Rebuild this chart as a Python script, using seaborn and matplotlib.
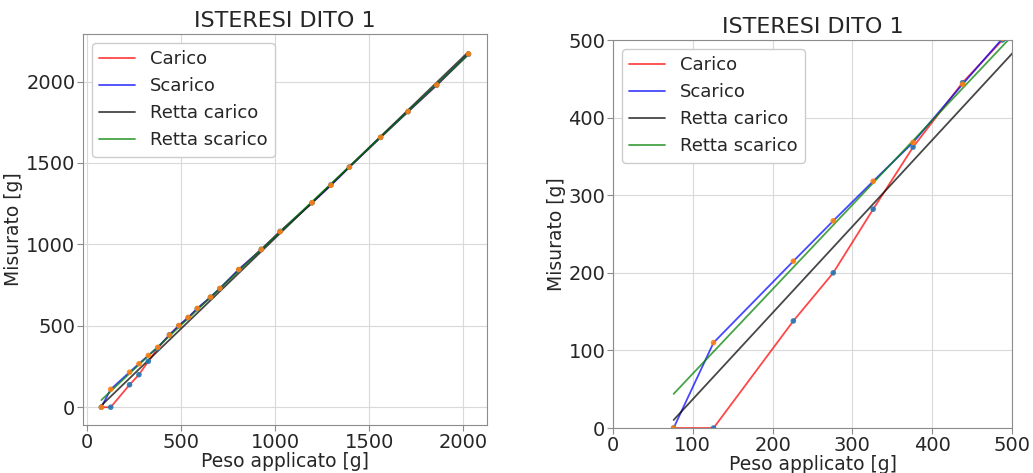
import numpy as np
import pandas as pd
import matplotlib
matplotlib.use("Agg")
import matplotlib.pyplot as plt
import seaborn as sns

# pesi applicati [g]
peso = [76, 126, 226, 276, 326, 376, 438, 488, 538, 586, 656, 706,
        806, 926, 1026, 1196, 1296, 1394, 1560, 1706, 1858, 2027]
# misure in carico / scarico [g]
carico = [0, 0, 138, 200, 282, 362, 445, 500, 550, 605, 675, 728,
          843, 970, 1080, 1255, 1365, 1475, 1657, 1815, 1977, 2168]
scarico = [0, 110, 215, 267, 318, 368, 443, 502, 551, 607, 676, 730,
           846, 968, 1078, 1256, 1363, 1474, 1658, 1816, 1979, 2170]

titolo = "ISTERESI DITO 1"

df = pd.DataFrame({"peso": peso, "carico": carico, "scarico": scarico})

# rette di regressione
pc = np.polyfit(df["peso"], df["carico"], 1)
ps = np.polyfit(df["peso"], df["scarico"], 1)
df["retta_carico"] = np.polyval(pc, df["peso"])
df["retta_scarico"] = np.polyval(ps, df["peso"])

sns.set_style("whitegrid", {"axes.edgecolor": "0.55", "grid.color": "0.85",
                            "xtick.bottom": True, "ytick.left": True})
plt.rcParams["font.family"] = ["DejaVu Sans"]

fig, axes = plt.subplots(1, 2, figsize=(10.33, 4.73), dpi=100)


def disegna(ax):
    sns.lineplot(data=df, x="peso", y="carico", color="r", alpha=0.72,
                 lw=1.3, label="Carico", ax=ax, sort=False)
    sns.lineplot(data=df, x="peso", y="scarico", color="b", alpha=0.72,
                 lw=1.3, label="Scarico", ax=ax, sort=False)
    sns.lineplot(data=df, x="peso", y="retta_carico", color="k", alpha=0.72,
                 lw=1.3, label="Retta carico", ax=ax, sort=False)
    sns.lineplot(data=df, x="peso", y="retta_scarico", color="g", alpha=0.72,
                 lw=1.3, label="Retta scarico", ax=ax, sort=False)
    sns.scatterplot(data=df, x="peso", y="carico", color="C0", s=16,
                    edgecolor="none", alpha=0.9, ax=ax, zorder=3)
    sns.scatterplot(data=df, x="peso", y="scarico", color="C1", s=16,
                    edgecolor="none", alpha=0.9, ax=ax, zorder=3)
    ax.set_title(titolo, fontsize=16, pad=5)
    ax.set_xlabel("Peso applicato [g]", fontsize=13.5, labelpad=0)
    ax.set_ylabel("Misurato [g]", fontsize=13.5, labelpad=2)
    ax.tick_params(labelsize=14, length=4, pad=1.5, color="0.55")
    ax.legend(loc="upper left", fontsize=13, framealpha=1)


disegna(axes[0])
disegna(axes[1])
axes[1].set_xlim(0, 500)
axes[1].set_ylim(0, 500)

axes[0].set_position([0.0803, 0.1015, 0.391, 0.8265])
axes[1].set_position([0.5934, 0.0951, 0.3863, 0.8203])

fig.savefig("out.png", dpi=100)
